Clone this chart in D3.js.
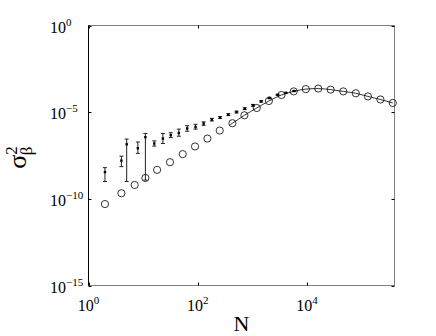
<!DOCTYPE html>
<html>
<head>
<meta charset="utf-8">
<script src="https://cdn.jsdelivr.net/npm/d3@7"></script>
<style>
  body { margin: 0; background: #fff; }
  svg { display: block; }
  text { font-family: "Liberation Serif", "Times New Roman", serif; fill: #000; }
</style>
</head>
<body>
<div id="chart"></div>
<script>
(function(){
"use strict"

//---data---
// simulated points (open circles)
var circN = [2, 4, 7, 11, 18, 31, 53, 89, 150, 252, 430, 713, 1200, 2000, 3400, 5700,
	9500, 16000, 27000, 46000, 78000, 130000, 220000, 370000];
var circV = [5.0e-11, 2.1e-10, 6.3e-10, 1.6e-9, 4.7e-9, 1.3e-8, 3.8e-8, 1.05e-7, 3.0e-7,
	8.7e-7, 2.3e-6, 6.6e-6, 1.74e-5, 4.4e-5, 9.8e-5, 1.58e-4, 2.14e-4, 2.3e-4, 2.0e-4,
	1.58e-4, 1.23e-4, 8.1e-5, 5.4e-5, 3.4e-5];

// theory curve (solid line)
var lineN = [390, 430, 713, 1200, 2000, 3400, 5700, 9500, 16000, 27000, 46000, 78000,
	130000, 220000, 370000];
var lineV = [1.9e-6, 2.3e-6, 6.6e-6, 1.74e-5, 4.4e-5, 9.8e-5, 1.58e-4, 2.14e-4, 2.3e-4,
	2.0e-4, 1.58e-4, 1.23e-4, 8.1e-5, 5.4e-5, 3.4e-5];

// estimates with error bars
var errN = [2, 4, 5, 8, 11, 16, 23, 32, 45, 64, 91, 128, 181, 256, 362, 512, 724, 1024,
	1448, 2048, 2896, 4096, 5793];
var errV = [3.5e-9, 1.6e-8, 1.4e-7, 8.3e-8, 3.6e-7, 1.55e-7, 3.0e-7, 4.7e-7, 6.3e-7,
	1.15e-6, 1.4e-6, 2.2e-6, 3.7e-6, 4.9e-6, 7.2e-6, 1.02e-5, 1.6e-5, 2.5e-5, 4.2e-5,
	6.6e-5, 1.0e-4, 1.29e-4, 1.66e-4];
var errHi = [6.3e-9, 2.9e-8, 2.8e-7, 1.9e-7, 5.9e-7, 2.2e-7, 5.9e-7, 6.5e-7, 1.05e-6,
	1.66e-6, 2.0e-6, 2.75e-6, 4.4e-6, 5.6e-6, 8.2e-6, 1.15e-5, 1.8e-5, 2.8e-5, 4.6e-5,
	7.2e-5, 1.08e-4, 1.38e-4, 1.76e-4];
var errLo = [1.0e-9, 7.2e-9, 1.0e-9, 4.2e-8, 1.2e-9, 1.1e-7, 1.55e-7, 3.4e-7, 4.1e-7,
	7.9e-7, 1.05e-6, 1.74e-6, 3.1e-6, 4.3e-6, 6.3e-6, 0.9e-5, 1.42e-5, 2.2e-5, 3.8e-5,
	6.0e-5, 0.93e-4, 1.2e-4, 1.56e-4];

var xTicks = [1, 100, 10000],
	xTickExp = ["0", "2", "4"],
	yTicks = [1, 1e-5, 1e-10, 1e-15],
	yTickExp = ["0", "\u22125", "\u221210", "\u221215"];

var W = 436, H = 336,
	left = 88.5, right = 394.5, top = 25.5, bottom = 285.5;

var x = d3.scaleLog().domain([1, 398107]).range([left, right]),
	y = d3.scaleLog().domain([1e-15, 1]).range([bottom, top]);

var svg = d3.select('#chart').append('svg')
	.attr('width', W)
	.attr('height', H);

// box
svg.append('rect')
	.attr('x', left).attr('y', top)
	.attr('width', right - left).attr('height', bottom - top)
	.style('fill', 'none').style('stroke', '#808080');
svg.append('line')
	.attr('x1', left).attr('x2', left).attr('y1', top).attr('y2', bottom)
	.style('stroke', '#000');

// ticks, both sides, pointing in
var tk = 3;
var g = svg.append('g').style('stroke', '#000').style('stroke-width', 1);
xTicks.forEach(function(d){
	var px = Math.round(x(d)) + 0.5;
	g.append('line').attr('x1', px).attr('x2', px).attr('y1', bottom).attr('y2', bottom - tk);
	g.append('line').attr('x1', px).attr('x2', px).attr('y1', top).attr('y2', top + tk);
});
yTicks.forEach(function(d){
	var py = Math.round(y(d)) + 0.5;
	g.append('line').attr('x1', left).attr('x2', left + tk).attr('y1', py).attr('y2', py);
	g.append('line').attr('x1', right).attr('x2', right - tk).attr('y1', py).attr('y2', py);
});

// tick labels
xTicks.forEach(function(d, i){
	var t = svg.append('text')
		.attr('x', x(d)).attr('y', 311)
		.attr('text-anchor', 'middle')
		.style('font-size', '16px');
	t.append('tspan').text('10');
	t.append('tspan').attr('dy', -7).style('font-size', '11px').text(xTickExp[i]);
});
yTicks.forEach(function(d, i){
	var t = svg.append('text')
		.attr('x', 50).attr('y', y(d) + 7)
		.style('font-size', '16px');
	t.append('tspan').text('10');
	t.append('tspan').attr('dy', -7).style('font-size', '11px').text(yTickExp[i]);
});

// axis labels
svg.append('text')
	.attr('x', (left + right) / 2).attr('y', 331)
	.attr('text-anchor', 'middle')
	.style('font-size', '22px')
	.text('N');

var yl = svg.append('text')
	.attr('transform', 'translate(26,' + ((top + bottom) / 2 + 2) + ') rotate(-90)')
	.attr('text-anchor', 'middle')
	.style('font-size', '26px');
yl.append('tspan').text('\u03c3');
yl.append('tspan').attr('dy', -9).style('font-size', '17px').text('2');
yl.append('tspan').attr('dx', -9).attr('dy', 15).style('font-size', '17px').text('\u03b2');

// theory line
var line = d3.line()
	.x(function(d, i){ return x(lineN[i]); })
	.y(function(d){ return y(d); })
	.curve(d3.curveMonotoneX);
svg.append('path')
	.datum(lineV)
	.attr('d', line)
	.style('fill', 'none')
	.style('stroke', '#000')
	.style('stroke-width', 0.8);

// error bars
var eb = svg.append('g').style('stroke', '#222').style('stroke-width', 1);
var cw = 2;
errN.forEach(function(n, i){
	var px = x(n), ph = y(errHi[i]), pl = y(errLo[i]);
	eb.append('line').attr('x1', px).attr('x2', px).attr('y1', ph).attr('y2', pl);
	eb.append('line').attr('x1', px - cw).attr('x2', px + cw).attr('y1', ph).attr('y2', ph);
	eb.append('line').attr('x1', px - cw).attr('x2', px + cw).attr('y1', pl).attr('y2', pl);
});
svg.append('g').selectAll('rect')
	.data(errV)
	.enter()
		.append('rect')
			.attr('x', function(d, i){ return x(errN[i]) - 1.2; })
			.attr('y', function(d){ return y(d) - 1.2; })
			.attr('width', 2.4)
			.attr('height', 2.4)
			.style('fill', '#000');

// circles
svg.append('g').selectAll('circle')
	.data(circV)
	.enter()
		.append('circle')
			.attr('cx', function(d, i){ return x(circN[i]); })
			.attr('cy', function(d){ return y(d); })
			.attr('r', 3.6)
			.style('fill', 'none')
			.style('stroke', '#000')
			.style('stroke-width', 0.8);

})();
</script>
</body>
</html>
